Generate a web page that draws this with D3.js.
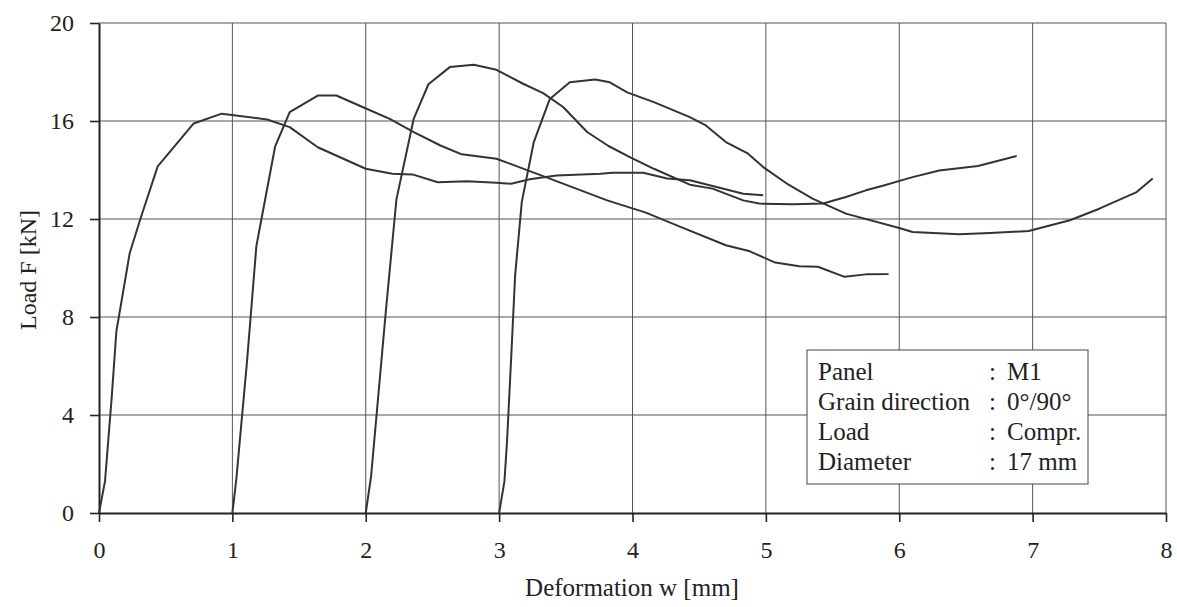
<!DOCTYPE html>
<html>
<head>
<meta charset="utf-8">
<script src="https://cdn.jsdelivr.net/npm/d3@7"></script>
<style>
  body { margin: 0; background: #fff; }
  svg text { font-family: "Liberation Serif", "DejaVu Serif", serif; fill: #222; }
</style>
</head>
<body>
<svg id="chart"></svg>
<script>
const width = 1177;
const height = 607;
const margin = { top: 23, right: 11, bottom: 94, left: 99 };

// load-deformation curves, four tests shifted by 1 mm each
const test1W = [0, 0.045, 0.095, 0.13, 0.23, 0.31, 0.44, 0.71, 0.92, 1.26, 1.43, 1.64, 2.0, 2.2, 2.35, 2.54, 2.76, 2.98, 3.09, 3.23, 3.43, 3.76, 3.85, 4.08, 4.26, 4.43, 4.63, 4.83, 4.98];
const test1F = [0, 1.3, 4.7, 7.4, 10.6, 12.0, 14.15, 15.9, 16.3, 16.06, 15.75, 14.93, 14.05, 13.85, 13.82, 13.5, 13.54, 13.48, 13.44, 13.62, 13.78, 13.85, 13.89, 13.89, 13.65, 13.58, 13.31, 13.03, 12.97];
const test2W = [1.0, 1.03, 1.11, 1.18, 1.32, 1.43, 1.64, 1.78, 1.98, 2.18, 2.36, 2.56, 2.72, 2.98, 3.08, 3.36, 3.81, 4.1, 4.36, 4.7, 4.88, 5.07, 5.25, 5.39, 5.59, 5.75, 5.92];
const test2F = [0, 1.4, 6.2, 10.9, 14.95, 16.36, 17.04, 17.04, 16.56, 16.09, 15.55, 15.0, 14.64, 14.46, 14.26, 13.69, 12.76, 12.26, 11.68, 10.93, 10.68, 10.22, 10.07, 10.05, 9.64, 9.74, 9.75];
const test3W = [2.0, 2.04, 2.15, 2.23, 2.36, 2.47, 2.63, 2.81, 2.98, 3.18, 3.33, 3.48, 3.66, 3.82, 3.98, 4.16, 4.43, 4.6, 4.83, 4.95, 5.2, 5.43, 5.6, 5.75, 5.87, 6.1, 6.3, 6.59, 6.88];
const test3F = [0, 1.5, 8.2, 12.8, 16.1, 17.5, 18.2, 18.3, 18.09, 17.52, 17.14, 16.57, 15.55, 14.98, 14.53, 14.05, 13.4, 13.24, 12.76, 12.63, 12.6, 12.63, 12.9, 13.17, 13.35, 13.71, 13.98, 14.16, 14.57];
const test4W = [3.0, 3.04, 3.06, 3.09, 3.12, 3.17, 3.26, 3.38, 3.53, 3.72, 3.83, 3.96, 4.16, 4.43, 4.55, 4.7, 4.86, 4.98, 5.17, 5.35, 5.6, 6.0, 6.1, 6.45, 6.68, 6.97, 7.28, 7.5, 7.78, 7.9];
const test4F = [0, 1.3, 3.0, 6.3, 9.7, 12.7, 15.14, 16.9, 17.58, 17.69, 17.58, 17.17, 16.77, 16.16, 15.82, 15.14, 14.69, 14.12, 13.4, 12.83, 12.22, 11.63, 11.47, 11.38, 11.43, 11.51, 11.95, 12.42, 13.1, 13.65];

const xTicks = [0, 1, 2, 3, 4, 5, 6, 7, 8];
const yTicks = [0, 4, 8, 12, 16, 20];

const legendKeys = ["Panel", "Grain direction", "Load", "Diameter"];
const legendValues = ["M1", "0°/90°", "Compr.", "17 mm"];

const curves = [
  [test1W, test1F],
  [test2W, test2F],
  [test3W, test3F],
  [test4W, test4F]
].map(([w, f]) => w.map((d, i) => [d, f[i]]));

const innerW = width - margin.left - margin.right;
const innerH = height - margin.top - margin.bottom;

const svg = d3.select("#chart")
  .attr("width", width)
  .attr("height", height);

const g = svg.append("g")
  .attr("transform", `translate(${margin.left},${margin.top})`);

const x = d3.scaleLinear().domain([0, 8]).range([0, innerW]);
const y = d3.scaleLinear().domain([0, 20]).range([innerH, 0]);

// grid
g.append("g")
  .selectAll("line")
  .data(xTicks.slice(1))
  .join("line")
  .attr("x1", d => x(d)).attr("x2", d => x(d))
  .attr("y1", 0).attr("y2", innerH)
  .attr("stroke", "#555").attr("stroke-width", 1);

g.append("g")
  .selectAll("line")
  .data(yTicks.slice(1))
  .join("line")
  .attr("x1", 0).attr("x2", innerW)
  .attr("y1", d => y(d)).attr("y2", d => y(d))
  .attr("stroke", "#555").attr("stroke-width", 1);

// axes
const xAxis = d3.axisBottom(x).tickValues(xTicks).tickSize(9).tickPadding(19).tickSizeOuter(0);
const yAxis = d3.axisLeft(y).tickValues(yTicks).tickSize(9).tickPadding(16).tickSizeOuter(0);

const gx = g.append("g")
  .attr("transform", `translate(0,${innerH})`)
  .call(xAxis);
const gy = g.append("g").call(yAxis);

[gx, gy].forEach(a => {
  a.select(".domain").attr("stroke", "#222").attr("stroke-width", 2);
  a.selectAll(".tick line").attr("stroke", "#222").attr("stroke-width", 1.6);
  a.selectAll(".tick text")
    .attr("font-size", 24)
    .attr("font-family", "Liberation Serif, serif")
    .attr("fill", "#222");
});

// curves
const line = d3.line()
  .x(d => x(d[0]))
  .y(d => y(d[1]));

g.append("g")
  .selectAll("path")
  .data(curves)
  .join("path")
  .attr("d", line)
  .attr("fill", "none")
  .attr("stroke", "#333")
  .attr("stroke-width", 2)
  .attr("stroke-linejoin", "round");

// axis titles
svg.append("text")
  .attr("x", 632)
  .attr("y", 596)
  .attr("text-anchor", "middle")
  .attr("font-size", 25)
  .text("Deformation w [mm]");

svg.append("text")
  .attr("transform", `translate(36,${270}) rotate(-90)`)
  .attr("text-anchor", "middle")
  .attr("font-size", 24)
  .text("Load F [kN]");

// legend box
const legend = svg.append("g").attr("transform", "translate(807,350)");

legend.append("rect")
  .attr("width", 281)
  .attr("height", 134)
  .attr("fill", "#fff")
  .attr("stroke", "#444")
  .attr("stroke-width", 1);

const rows = legend.selectAll("g.row")
  .data(legendKeys)
  .join("g")
  .attr("class", "row")
  .attr("transform", (d, i) => `translate(0,${30 + i * 30})`);

rows.append("text").attr("x", 11).attr("font-size", 25).text(d => d);
rows.append("text").attr("x", 182).attr("font-size", 25).text(":");
rows.append("text").attr("x", 200).attr("font-size", 25).text((d, i) => legendValues[i]);
</script>
</body>
</html>
